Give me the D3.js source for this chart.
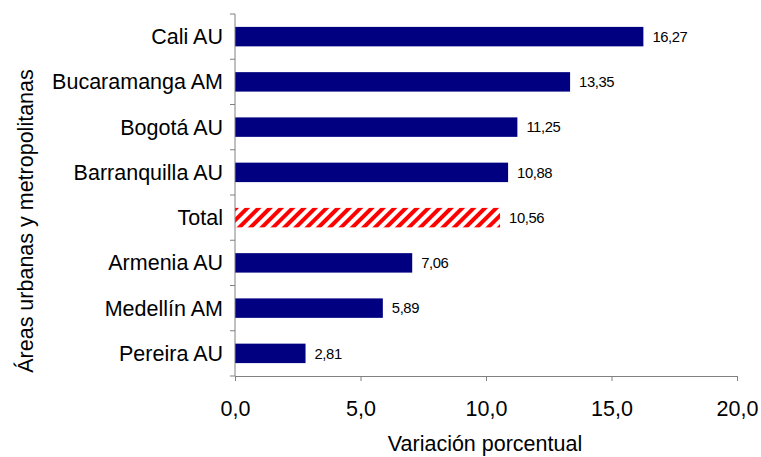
<!DOCTYPE html>
<html>
<head>
<meta charset="utf-8">
<script src="https://cdn.jsdelivr.net/npm/d3@7"></script>
<style>
  body { margin: 0; background: #fff; }
  text { font-family: "Liberation Sans", Arial, sans-serif; fill: #000; }
</style>
</head>
<body>
<div class="bar-chart"></div>
<script>
const width = 761;
const height = 457;
const margin = { top: 14, right: 24, bottom: 81, left: 235 };

/* DATA */
const categories = ["Cali AU", "Bucaramanga AM", "Bogotá AU", "Barranquilla AU", "Total", "Armenia AU", "Medellín AM", "Pereira AU"];
const values = [16.27, 13.35, 11.25, 10.88, 10.56, 7.06, 5.89, 2.81];
const xTicks = [0, 5, 10, 15, 20];

const data = categories.map((c, i) => ({ name: c, value: values[i] }));
const fmt = v => d3.format(".1f")(v).replace(".", ",");
const fmt2 = v => d3.format(".2f")(v).replace(".", ",");

const svg = d3.select(".bar-chart")
    .append("svg")
    .attr("width", width)
    .attr("height", height);

// hatch pattern for Total
const defs = svg.append("defs");
const pat = defs.append("pattern")
    .attr("id", "hatch")
    .attr("patternUnits", "userSpaceOnUse")
    .attr("width", 8)
    .attr("height", 8)
    .attr("patternTransform", "rotate(45)");
pat.append("rect").attr("width", 8).attr("height", 8).attr("fill", "#fff");
pat.append("rect").attr("width", 4).attr("height", 8).attr("fill", "#ff0000");

// SCALES
const xScale = d3.scaleLinear()
    .domain([0, 20])
    .range([margin.left, width - margin.right]);

const yScale = d3.scaleBand()
    .domain(categories)
    .range([margin.top, height - margin.bottom])
    .paddingInner(0.57)
    .paddingOuter(0.285);

// BARS
svg.selectAll("rect.bar")
    .data(data)
    .join("rect")
    .attr("class", "bar")
    .attr("x", xScale(0))
    .attr("y", d => yScale(d.name))
    .attr("width", d => xScale(d.value) - xScale(0))
    .attr("height", yScale.bandwidth())
    .attr("fill", d => d.name === "Total" ? "url(#hatch)" : "#000080");

// VALUE LABELS
svg.selectAll("text.val")
    .data(data)
    .join("text")
    .attr("class", "val")
    .attr("x", d => xScale(d.value) + 9)
    .attr("y", d => yScale(d.name) + yScale.bandwidth() / 2)
    .attr("dy", "0.36em")
    .attr("font-size", 14.8)
    .attr("letter-spacing", "-0.4")
    .text(d => fmt2(d.value));

// X AXIS
const xAxis = d3.axisBottom(xScale)
    .tickValues(xTicks)
    .tickSize(5)
    .tickSizeOuter(0)
    .tickPadding(20)
    .tickFormat(fmt);

const gx = svg.append("g")
    .attr("transform", `translate(0, ${height - margin.bottom})`)
    .call(xAxis);
gx.selectAll("path, line").attr("stroke", "#808080");
gx.selectAll("text").attr("font-size", 21.5).attr("font-family", "Liberation Sans, Arial, sans-serif");

// Y AXIS - ticks on band boundaries
const bounds = d3.range(categories.length + 1).map(i => margin.top + i * (height - margin.top - margin.bottom) / categories.length);
const gy = svg.append("g");
gy.append("line")
    .attr("x1", margin.left).attr("x2", margin.left)
    .attr("y1", margin.top).attr("y2", height - margin.bottom)
    .attr("stroke", "#808080");
gy.selectAll("line.tk")
    .data(bounds)
    .join("line")
    .attr("class", "tk")
    .attr("x1", margin.left - 5).attr("x2", margin.left)
    .attr("y1", d => d).attr("y2", d => d)
    .attr("stroke", "#808080");
gy.selectAll("text")
    .data(categories)
    .join("text")
    .attr("x", margin.left - 12)
    .attr("y", d => yScale(d) + yScale.bandwidth() / 2)
    .attr("dy", "0.35em")
    .attr("text-anchor", "end")
    .attr("font-size", 21.5)
    .text(d => d);

// AXIS TITLES
svg.append("text")
    .attr("x", 485)
    .attr("y", 451)
    .attr("text-anchor", "middle")
    .attr("font-size", 21.5)
    .text("Variación porcentual");

svg.append("text")
    .attr("transform", `translate(33, 221)rotate(-90)`)
    .attr("text-anchor", "middle")
    .attr("font-size", 21.5)
    .text("Áreas urbanas y metropolitanas");
</script>
</body>
</html>
